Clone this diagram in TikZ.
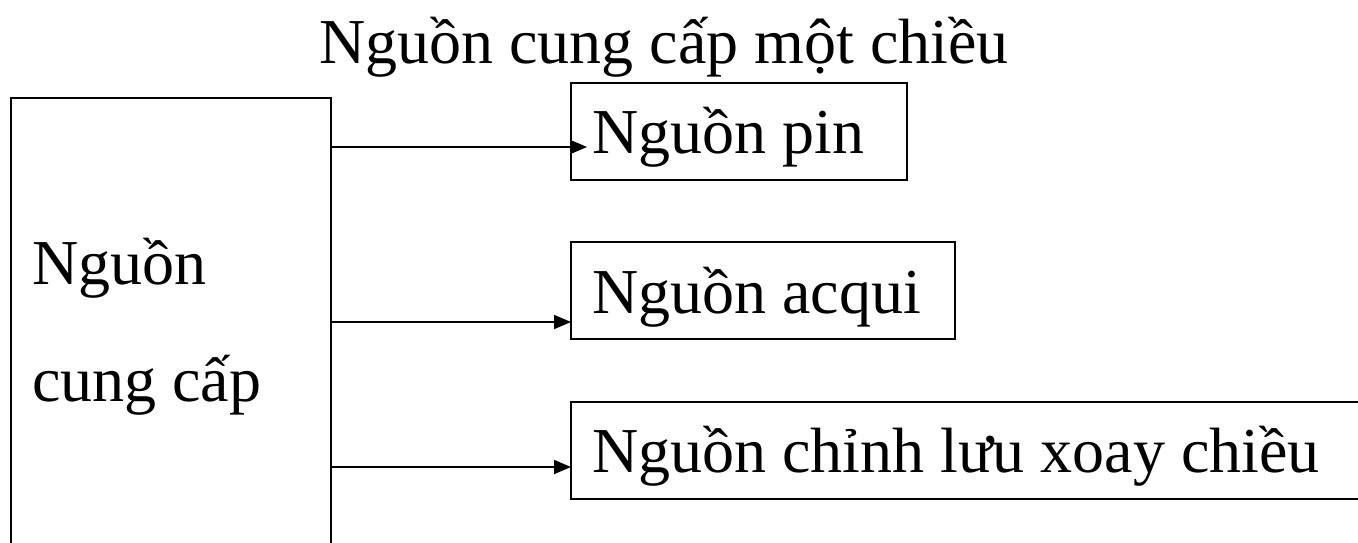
\documentclass[tikz,border=0pt]{standalone}
\usepackage{fontspec}
\setmainfont{Liberation Serif}
\usetikzlibrary{arrows.meta}
\begin{document}
\begin{tikzpicture}[x=1pt,y=-1pt,
  font=\fontsize{64}{70}\selectfont,
  box/.style={draw, line width=1.8pt, inner ysep=0pt, inner xsep=21pt, outer sep=0pt,
              align=flush left, anchor=base west, text height=70pt, text depth=27pt},
  lbl/.style={anchor=base west, inner sep=0pt, outer sep=0pt},
  arr/.style={line width=1.8pt, -{Triangle[length=17pt,width=14pt]}}]
\useasboundingbox (0,0) rectangle (1358,543);
\clip (0,0) rectangle (1358,543);
% title
\node[lbl] (title) at (319,64) {Nguồn cung cấp một chiều};
% big box
\node[draw, line width=1.8pt, anchor=north west, minimum width=320pt, minimum height=520pt,
      inner sep=0pt, outer sep=0pt] (big) at (11,98) {};
\node[lbl] (bigt1) at (32,284) {Nguồn};
\node[lbl] (bigt2) at (32,401) {cung cấp};
% right boxes
\node[box, text width=294pt] (b1) at (571,153) {Nguồn pin};
\node[box, text width=342pt, text height=71pt, text depth=26pt] (b2) at (571,313) {Nguồn acqui};
\node[box, text width=787pt] (b3) at (571,472) {Nguồn chỉnh lưu xoay chiều};
% connectors
\coordinate (t1) at (587,147);
\coordinate (y2) at (0,322);
\coordinate (y3) at (0,467);
\draw[arr] (big.east |- t1) -- (t1);
\draw[arr] (big.east |- y2) -- (b2.west |- y2);
\draw[arr] (big.east |- y3) -- (b3.west |- y3);
\end{tikzpicture}
\end{document}
